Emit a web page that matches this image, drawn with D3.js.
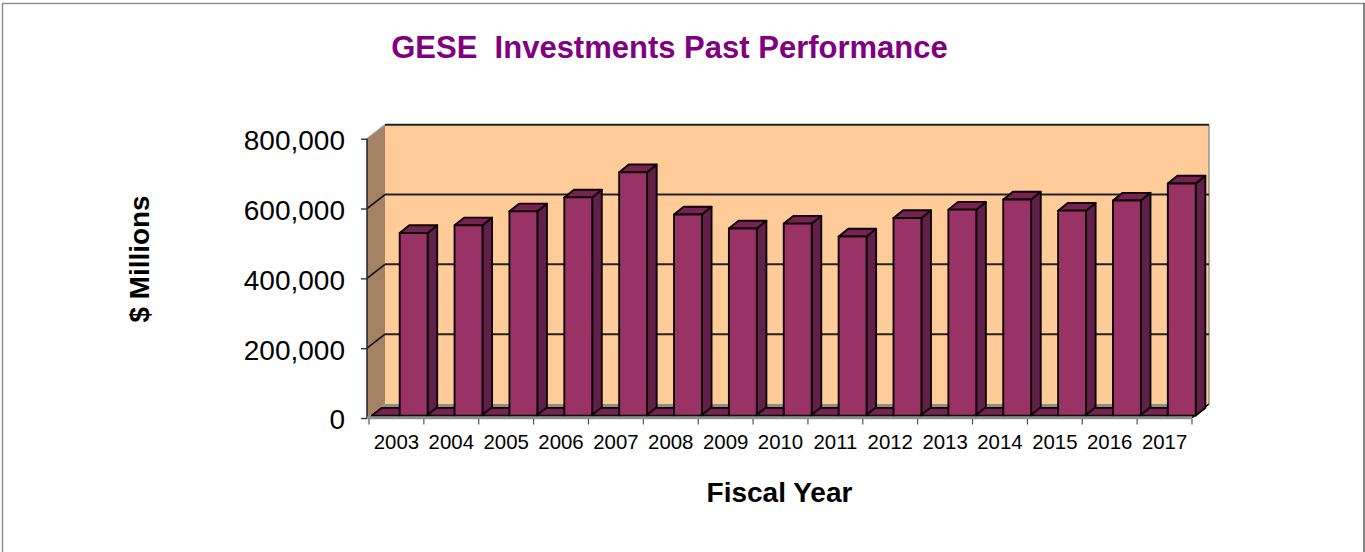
<!DOCTYPE html>
<html><head><meta charset="utf-8">
<script src="https://cdn.jsdelivr.net/npm/d3@7"></script>
<style>html,body{margin:0;padding:0;background:#fff}svg{display:block}text{font-family:"Liberation Sans",Arial,sans-serif}</style>
</head><body><svg id="c" width="1365" height="552"></svg>
<script>
const years = ["2003","2004","2005","2006","2007","2008","2009","2010","2011","2012","2013","2014","2015","2016","2017"];
const investments = [523000,545000,585000,625000,697000,576000,536000,550000,513000,566000,590000,619000,587000,616000,665000];
const otherSeries = [0,0,0,0,0,0,0,0,0,0,0,0,0,0,0];
const yTicks = [0,200000,400000,600000,800000];
const titleText = "GESE  Investments Past Performance";
const xTitle = "Fiscal Year";
const yTitle = "$ Millions";

const svg = d3.select("#c");
const x = d3.scaleBand().domain(years).range([369,1192]);
const y = d3.scaleLinear().domain([0,800000]).range([418,138.7]);
const wallDx = 18, wallDy = -14;
const barDx = 9.6, barDy = -7.7;
const baseShift = -2.4;
const barW = 27.9;

svg.append("rect").attr("x",2.5).attr("y",3.5).attr("width",1370).attr("height",560).attr("fill","#fff").attr("stroke","#8c8c8c").attr("stroke-width",1.4);
svg.append("line").attr("x1",1364).attr("x2",1364).attr("y1",3).attr("y2",552).attr("stroke","#555").attr("stroke-width",1.4);

const x0 = x.range()[0]-2, x1 = x.range()[1], yB = y(0), yT = y(800000);
const poly = pts => pts.map(p=>p.join(",")).join(" ");
// side wall, back wall, floor
svg.append("polygon").attr("points",poly([[x0,yT],[x0+wallDx,yT+wallDy],[x0+wallDx,yB+wallDy],[x0,yB]])).attr("fill","#a58263");
svg.append("rect").attr("x",x0+wallDx).attr("y",yT+wallDy).attr("width",x1-x0-1).attr("height",yB-yT).attr("fill","#ffcc99");
svg.append("polygon").attr("points",poly([[x0,yB],[x0+wallDx,yB+wallDy],[x1+wallDx-1,yB+wallDy],[x1,yB]])).attr("fill","#8f8f80");
svg.append("line").attr("x1",x0).attr("y1",yT).attr("x2",x0+wallDx).attr("y2",yT+wallDy).attr("stroke","#999").attr("stroke-width",1.4);
svg.append("line").attr("x1",x1+wallDx-1).attr("x2",x1+wallDx-1).attr("y1",yT+wallDy).attr("y2",yB+wallDy).attr("stroke","#999").attr("stroke-width",1.6);
svg.append("line").attr("x1",x1).attr("y1",yB).attr("x2",x1+wallDx-1).attr("y2",yB+wallDy).attr("stroke","#111").attr("stroke-width",1.4);

// gridlines
yTicks.forEach(t=>{
  if(t===0) return;
  const yy=y(t);
  if(t<800000) svg.append("line").attr("x1",x0).attr("y1",yy).attr("x2",x0+wallDx).attr("y2",yy+wallDy).attr("stroke","#111").attr("stroke-width",1.6);
  svg.append("line").attr("x1",x0+wallDx).attr("y1",yy+wallDy).attr("x2",x1+wallDx-1).attr("y2",yy+wallDy).attr("stroke","#222").attr("stroke-width",2);
});

// bars: near-zero series then main series, left to right
const bar = (g,xl,v)=>{
  const b = y(0)+baseShift, t = y(v)+baseShift, r = xl+barW;
  const st = {stroke:"#0d0208","stroke-width":1.9,"stroke-linejoin":"round"};
  const add=(pts,fill)=>{const p=g.append("polygon").attr("points",poly(pts)).attr("fill",fill);Object.entries(st).forEach(([k,val])=>p.attr(k,val));};
  add([[r,t],[r+barDx,t+barDy],[r+barDx,b+barDy],[r,b]],"#612048");
  add([[xl,t],[xl+barDx,t+barDy],[r+barDx,t+barDy],[r,t]],"#75234f");
  if(v>0) add([[xl,t],[r,t],[r,b],[xl,b]],"#993366");
};
const gBars = svg.append("g");
years.forEach((yr,i)=>{
  const xs = x(yr)+2.8;
  bar(gBars,xs,otherSeries[i]);
  bar(gBars,xs+barW,investments[i]);
});

// axes
const gy = svg.append("g").attr("transform",`translate(${x0},0)`)
  .call(d3.axisLeft(y).tickValues(yTicks).tickFormat(d3.format(",")).tickSize(6).tickPadding(16));
gy.selectAll("text").attr("font-size",28).attr("fill","#000").attr("dy","0.39em").attr("font-family",'"Liberation Sans",Arial,sans-serif');
gy.select(".domain").attr("stroke","#222").attr("stroke-width",1.5).attr("d",`M0,${yT}V${yB}`);
gy.selectAll(".tick line").attr("stroke","#333").attr("stroke-width",1.4);

svg.append("rect").attr("x",x0).attr("y",yB-1.6).attr("width",x1-x0).attr("height",2.8).attr("fill","#8e8e8e");

const gx = svg.append("g").attr("transform",`translate(0,${yB})`)
  .call(d3.axisBottom(x).tickSize(0).tickPadding(17));
gx.select(".domain").remove();
gx.selectAll("text").attr("font-size",20.4).attr("fill","#000").attr("font-family",'"Liberation Sans",Arial,sans-serif');
years.concat(["end"]).forEach((yr,i)=>{
  const px = i<years.length? x(yr): x.range()[1];
  gx.append("line").attr("x1",px).attr("x2",px).attr("y1",1).attr("y2",6.5).attr("stroke","#444").attr("stroke-width",1.1);
});

svg.append("text").attr("x",669.5).attr("y",58).attr("text-anchor","middle").attr("font-size",31).attr("font-weight","bold").attr("fill","#800080").style("white-space","pre").text(titleText);
svg.append("text").attr("x",779.5).attr("y",502).attr("text-anchor","middle").attr("font-size",28).attr("font-weight","bold").attr("fill","#000").text(xTitle);
svg.append("text").attr("transform","translate(149,259) rotate(-90)").attr("text-anchor","middle").attr("font-size",27.9).attr("font-weight","bold").attr("fill","#000").text(yTitle);
</script></body></html>
